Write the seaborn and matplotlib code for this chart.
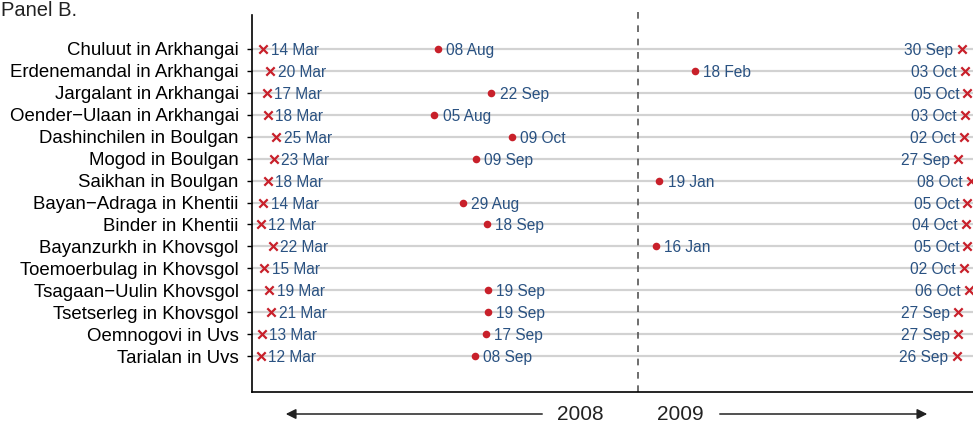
import matplotlib
matplotlib.use("Agg")
import matplotlib.pyplot as plt
from matplotlib.patches import FancyArrowPatch
import seaborn as sns
import pandas as pd
import numpy as np

# ---------------- data ----------------
sites = [
    "Chuluut in Arkhangai",
    "Erdenemandal in Arkhangai",
    "Jargalant in Arkhangai",
    "Oender\u2212Ulaan in Arkhangai",
    "Dashinchilen in Boulgan",
    "Mogod in Boulgan",
    "Saikhan in Boulgan",
    "Bayan\u2212Adraga in Khentii",
    "Binder in Khentii",
    "Bayanzurkh in Khovsgol",
    "Toemoerbulag in Khovsgol",
    "Tsagaan\u2212Uulin Khovsgol",
    "Tsetserleg in Khovsgol",
    "Oemnogovi in Uvs",
    "Tarialan in Uvs",
]
start_dates = [
    "2008-03-14", "2008-03-20", "2008-03-17", "2008-03-18", "2008-03-25",
    "2008-03-23", "2008-03-18", "2008-03-14", "2008-03-12", "2008-03-22",
    "2008-03-15", "2008-03-19", "2008-03-21", "2008-03-13", "2008-03-12",
]
event_dates = [
    "2008-08-08", "2009-02-18", "2008-09-22", "2008-08-05", "2008-10-09",
    "2008-09-09", "2009-01-19", "2008-08-29", "2008-09-18", "2009-01-16",
    None, "2008-09-19", "2008-09-19", "2008-09-17", "2008-09-08",
]
end_dates = [
    "2009-09-30", "2009-10-03", "2009-10-05", "2009-10-03", "2009-10-02",
    "2009-09-27", "2009-10-08", "2009-10-05", "2009-10-04", "2009-10-05",
    "2009-10-02", "2009-10-06", "2009-09-27", "2009-09-27", "2009-09-26",
]
year_labels = ["2008", "2009"]

# ---------------- styling ----------------
RED = "#c8202a"
BLUE = "#2a5282"
GRID = "#d2d2d2"
YEAR_GAP = 22          # visual gap (in days) inserted between the two years
ORIGIN = pd.Timestamp("2008-01-01")
BOUNDARY = pd.Timestamp("2009-01-01")


def to_x(d):
    d = pd.Timestamp(d)
    v = (d - ORIGIN).days
    if d >= BOUNDARY:
        v += YEAR_GAP
    return v


def lab(d):
    return pd.Timestamp(d).strftime("%d %b")


rows = np.arange(len(sites))
df_start = pd.DataFrame({"x": [to_x(d) for d in start_dates], "y": rows,
                         "lab": [lab(d) for d in start_dates]})
df_end = pd.DataFrame({"x": [to_x(d) for d in end_dates], "y": rows,
                       "lab": [lab(d) for d in end_dates]})
ev = [(to_x(d), i, lab(d)) for i, d in enumerate(event_dates) if d is not None]
df_ev = pd.DataFrame(ev, columns=["x", "y", "lab"])

sns.set_style("ticks")
plt.rcParams["font.family"] = ["Liberation Sans", "DejaVu Sans"]

W, H = 973, 424
fig = plt.figure(figsize=(W / 100, H / 100), dpi=100)
ax = fig.add_axes([252 / W, 1 - 392 / H, 721 / W, (392 - 15) / H])

# horizontal guides
for r in rows:
    ax.axhline(r, color=GRID, lw=1.6, zorder=0)

sns.scatterplot(data=df_start, x="x", y="y", marker="x", color=RED, s=36,
                linewidth=1.6, ax=ax, zorder=3, clip_on=False)
sns.scatterplot(data=df_end, x="x", y="y", marker="x", color=RED, s=36,
                linewidth=1.6, ax=ax, zorder=3, clip_on=False)
sns.scatterplot(data=df_ev, x="x", y="y", marker="o", color=RED, s=30,
                linewidth=0, ax=ax, zorder=3)

fs = 11.2
for _, r in df_start.iterrows():
    ax.annotate(r["lab"], (r["x"], r["y"]), xytext=(5.5, 0), textcoords="offset points",
                ha="left", va="center_baseline", color=BLUE, fontsize=fs, zorder=4)
for _, r in df_ev.iterrows():
    ax.annotate(r["lab"], (r["x"], r["y"]), xytext=(6, 0), textcoords="offset points",
                ha="left", va="center_baseline", color=BLUE, fontsize=fs, zorder=4)
for _, r in df_end.iterrows():
    ax.annotate(r["lab"], (r["x"], r["y"]), xytext=(-6, 0), textcoords="offset points",
                ha="right", va="center_baseline", color=BLUE, fontsize=fs, zorder=4)

# year divider
xb = to_x(BOUNDARY)
ax.plot([xb, xb], [15.64, -1.97], color="#555555", lw=1.2,
        linestyle=(0, (4, 4)), clip_on=False, zorder=1)

# scales
x0 = to_x("2008-03-14") - 11 / 1.19
ax.set_xlim(x0, x0 + 721 / 1.19)
ax.set_ylim(len(sites) - 1 + 1.64, -1.55)
ax.set_yticks(rows)
ax.set_yticklabels(sites, fontsize=13.4)
ax.set_xticks([])
ax.set_xlabel("")
ax.set_ylabel("")
ax.tick_params(axis="y", length=3.6, width=1.0, pad=6.0, colors="black")
for s in ["top", "right"]:
    ax.spines[s].set_visible(False)
for s in ["left", "bottom"]:
    ax.spines[s].set_linewidth(1.2)
    ax.spines[s].set_color("black")
ax.set_facecolor("white")

# year arrows below the axis
ya = 1 - 414 / H
fig.add_artist(FancyArrowPatch((545 / W, ya), (283 / W, ya), transform=fig.transFigure,
                               arrowstyle="-|>,head_length=6,head_width=3",
                               color="#222222", lw=1.1, mutation_scale=1))
fig.add_artist(FancyArrowPatch((717 / W, ya), (930 / W, ya), transform=fig.transFigure,
                               arrowstyle="-|>,head_length=6,head_width=3",
                               color="#222222", lw=1.1, mutation_scale=1))
fig.text(580 / W, ya, year_labels[0], ha="center", va="center", fontsize=15, color="#222222")
fig.text(680 / W, ya, year_labels[1], ha="center", va="center", fontsize=15, color="#222222")

fig.text(1 / W, 1 - 15.5 / H, "Panel B.", ha="left", va="baseline", fontsize=14.5, color="#222222")

fig.savefig("out.png", dpi=100)
